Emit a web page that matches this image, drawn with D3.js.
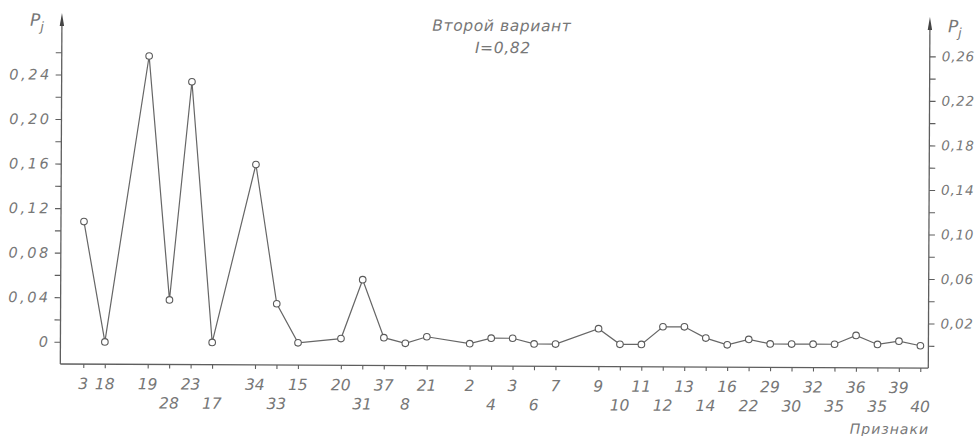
<!DOCTYPE html>
<html>
<head>
<meta charset="utf-8">
<script src="https://cdn.jsdelivr.net/npm/d3@7"></script>
<style>
  body { margin: 0; background: #fff; }
  svg text { font-family: "DejaVu Sans", sans-serif; font-style: italic; fill: #777; }
</style>
</head>
<body>
<div id="chart"></div>
<script>
// признаки в том порядке, как они идут по оси
var features = ["3", "18", "19", "28", "23", "17", "34", "33", "15", "20", "31", "37", "8", "21",
    "2", "4", "3", "6", "7", "9", "10", "11", "12", "13", "14", "16", "22", "29", "30", "32",
    "35", "36", "35", "39", "40"];

// Pj для каждого признака
var pj = [0.108, 0.000, 0.257, 0.038, 0.234, 0.000, 0.160, 0.035, 0.000, 0.004, 0.057, 0.005, 0.000, 0.006,
    0.000, 0.005, 0.005, 0.000, 0.000, 0.014, 0.000, 0.000, 0.016, 0.016, 0.006, 0.000, 0.005, 0.001, 0.001, 0.001,
    0.001, 0.009, 0.001, 0.004, 0.000];

// после этих признаков (индексы) на оси пустое место
var blankAfter = [1, 5, 8, 13, 18];
// подписи, которые стоят во втором ряду
var lowerRow = [3, 5, 7, 10, 12, 15, 17, 20, 22, 24, 26, 28, 30, 32, 34];

var leftTicks = [0, 0.02, 0.04, 0.06, 0.08, 0.10, 0.12, 0.14, 0.16, 0.18, 0.20, 0.22, 0.24, 0.26];
var leftLabels = [0, 0.04, 0.08, 0.12, 0.16, 0.20, 0.24];
var rightTicks = [0, 0.02, 0.04, 0.06, 0.08, 0.10, 0.12, 0.14, 0.16, 0.18, 0.20, 0.22, 0.24, 0.26];
var rightLabels = [0.02, 0.06, 0.10, 0.14, 0.18, 0.22, 0.26];

var W = 980, H = 436;
var axisL = 61, axisR = 929, axisB = 366, axisTop = 15;
var ink = "#5e5e5e";

var svg = d3.select("#chart").append("svg")
    .attr("width", W)
    .attr("height", H);

svg.append("rect").attr("width", W).attr("height", H).attr("fill", "#fff");

// скан чуть повернут
var root = svg.append("g").attr("transform", "rotate(0.27, 490, 218)");

var slots = [];
features.forEach(function (f, i) {
    slots.push("f" + i);
    if (blankAfter.indexOf(i) >= 0) slots.push("g" + i);
});

var x = d3.scalePoint().domain(slots).range([84, 921]);
var y = d3.scaleLinear().domain([-0.02, 0.28]).range([axisB, 32]);

function comma(d) {
    if (d === 0) return "0";
    return d3.format(".2f")(d).replace(".", ",");
}
function isIn(list, d) {
    return list.some(function (v) { return Math.abs(v - d) < 1e-9; });
}

// левая ось
var gl = root.append("g")
    .attr("transform", "translate(" + axisL + ",0)")
    .call(d3.axisLeft(y).tickValues(leftTicks).tickSize(6).tickPadding(4)
        .tickFormat(function (d) { return isIn(leftLabels, d) ? comma(d) : ""; }));
gl.select(".domain").remove();
gl.selectAll(".tick line").attr("stroke", ink).attr("stroke-width", 1.1);
gl.selectAll(".tick text")
    .attr("font-size", 14.5)
    .attr("letter-spacing", 2.5)
    .attr("fill", "#6e6e6e");

// правая ось
var gr = root.append("g")
    .attr("transform", "translate(" + axisR + ",0)")
    .call(d3.axisRight(y).tickValues(rightTicks).tickSize(6).tickPadding(6)
        .tickFormat(function (d) { return isIn(rightLabels, d) ? comma(d) : ""; }));
gr.select(".domain").remove();
gr.selectAll(".tick line").attr("stroke", ink).attr("stroke-width", 1.1);
gr.selectAll(".tick text")
    .attr("font-size", 13.5)
    .attr("letter-spacing", 0.8)
    .attr("fill", "#858585");

// нижняя ось
var gb = root.append("g")
    .attr("transform", "translate(0," + axisB + ")")
    .call(d3.axisBottom(x)
        .tickValues(slots.filter(function (s) { return s[0] === "f"; }))
        .tickSize(4).tickFormat(""));
gb.select(".domain").remove();
gb.selectAll(".tick line").attr("stroke", ink).attr("stroke-width", 1.1);

// линии осей со стрелками
root.append("line")
    .attr("x1", axisL).attr("x2", axisR)
    .attr("y1", axisB).attr("y2", axisB)
    .attr("stroke", ink).attr("stroke-width", 1.3);

[axisL, axisR].forEach(function (ax) {
    root.append("line")
        .attr("x1", ax).attr("x2", ax)
        .attr("y1", axisB).attr("y2", axisTop + 6)
        .attr("stroke", ink).attr("stroke-width", 1.3);
    root.append("path")
        .attr("d", "M" + ax + "," + axisTop + "L" + (ax - 2.2) + "," + (axisTop + 13) +
            "L" + (ax + 2.2) + "," + (axisTop + 13) + "Z")
        .attr("fill", "#444");
});

// подписи признаков
root.append("g").selectAll("text")
    .data(features)
    .enter().append("text")
    .attr("x", function (d, i) { return x("f" + i); })
    .attr("y", function (d, i) { return lowerRow.indexOf(i) >= 0 ? 410 : 391; })
    .attr("text-anchor", "middle")
    .attr("font-family", "'Liberation Sans Narrow', 'DejaVu Sans Condensed', 'Liberation Sans', sans-serif")
    .attr("font-size", 15.5)
    .attr("fill", "#858585")
    .text(function (d) { return d; });

root.append("text")
    .attr("x", 930).attr("y", 432)
    .attr("text-anchor", "end")
    .attr("font-size", 14)
    .attr("letter-spacing", 1)
    .attr("fill", "#959595")
    .text("Признаки");

// Pj у осей
function pLabel(px, py) {
    var t = root.append("text")
        .attr("x", px).attr("y", py)
        .attr("font-size", 17)
        .attr("fill", "#777");
    t.append("tspan").text("P");
    t.append("tspan").attr("dy", 5).attr("font-size", 13).text("j");
}
pLabel(29, 28);
pLabel(947, 30);

// заголовок
root.append("text")
    .attr("x", 501).attr("y", 31)
    .attr("text-anchor", "middle")
    .attr("font-size", 15.5)
    .attr("letter-spacing", 0.6)
    .attr("fill", "#858585")
    .text("Второй вариант");
root.append("text")
    .attr("x", 502).attr("y", 53)
    .attr("text-anchor", "middle")
    .attr("font-size", 15.5)
    .attr("letter-spacing", 0.6)
    .attr("fill", "#858585")
    .text("I=0,82");

// ломаная и точки
var pts = features.map(function (f, i) { return { key: "f" + i, v: pj[i] }; });

var line = d3.line()
    .x(function (d) { return x(d.key); })
    .y(function (d) { return y(d.v); });

root.append("path")
    .datum(pts)
    .attr("d", line)
    .attr("fill", "none")
    .attr("stroke", "#666")
    .attr("stroke-width", 1.2);

root.append("g").selectAll("circle")
    .data(pts)
    .enter().append("circle")
    .attr("cx", function (d) { return x(d.key); })
    .attr("cy", function (d) { return y(d.v); })
    .attr("r", 3.3)
    .attr("fill", "#fff")
    .attr("stroke", "#5a5a5a")
    .attr("stroke-width", 1.1);
</script>
</body>
</html>
